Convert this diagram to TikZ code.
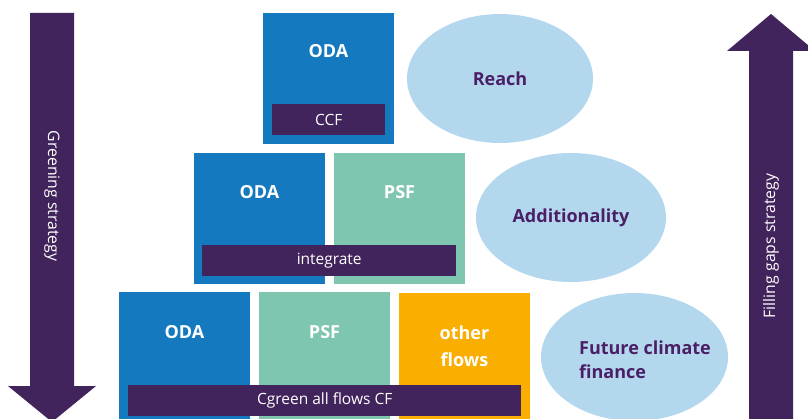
\documentclass[tikz,border=0pt]{standalone}
\usepackage{fontspec}
\setmainfont{Open Sans}
\usetikzlibrary{shapes.geometric}
\definecolor{odablue}{HTML}{1479BF}
\definecolor{psfteal}{HTML}{7FC6B1}
\definecolor{flowor}{HTML}{F9AE00}
\definecolor{dpurple}{HTML}{41245C}
\definecolor{lblue}{HTML}{B3D8EE}
\definecolor{tpurple}{HTML}{4A1F66}
\begin{document}
\begin{tikzpicture}[x=1pt,y=-1pt,
  box/.style={anchor=north west, inner sep=0pt, minimum width=131pt, minimum height=131pt},
  bar/.style={fill=dpurple, anchor=north west, inner sep=0pt, minimum height=31pt, text=white, font=\fontsize{15.5}{18}\selectfont},
  lab/.style={text=white, font=\bfseries\fontsize{18}{27}\selectfont, align=center, inner sep=0pt},
  oval/.style={ellipse, fill=lblue, inner sep=0pt, text=tpurple, font=\bfseries\fontsize{18}{24}\selectfont},
  arrowtext/.style={text=white, font=\fontsize{15.8}{18}\selectfont, inner sep=0pt},
  bigarrow/.style={fill=dpurple}]
\useasboundingbox (0,0) rectangle (808,419);
\clip (0,0) rectangle (808,419);
% strategy arrows
\fill[bigarrow] (30,13) -- (74,13) -- (74,386) -- (96,386) -- (52,422) -- (8,386) -- (30,386) -- cycle;
\node[arrowtext, rotate=-90] (green) at (52,196) {Greening strategy};
\fill[bigarrow] (749,424) -- (749,51) -- (727,51) -- (771,14) -- (815,51) -- (793,51) -- (793,424) -- cycle;
\node[arrowtext, rotate=90] (fill) at (771,246) {Filling gaps strategy};
% top row
\node[box, fill=odablue] (oda1) at (263,13) {};
\node[lab] (oda1l) at (328.5,51) {ODA};
\node[bar, minimum width=113pt] (ccf) at (272,104) {CCF};
% middle row
\node[box, fill=odablue] (oda2) at (194,153) {};
\node[lab] (oda2l) at (259.5,192) {ODA};
\node[box, fill=psfteal] (psf2) at (334,153) {};
\node[lab] (psf2l) at (399.5,192) {PSF};
\node[bar, minimum width=254pt] (integ) at (202,245) {integrate};
% bottom row
\node[box, fill=odablue] (oda3) at (119,292) {};
\node[lab] (oda3l) at (184.5,332) {ODA};
\node[box, fill=psfteal] (psf3) at (259,292) {};
\node[lab] (psf3l) at (324.5,332) {PSF};
\node[box, fill=flowor] (oth3) at (399,293) {};
\node[lab] (oth3l) at (464.5,346) {other\\flows};
\node[bar, minimum width=393pt] (cgreen) at (128,385) {Cgreen all flows CF};
% ellipses
\node[oval, minimum width=186pt, minimum height=129pt] (reach) at (500,78.5) {Reach};
\node[oval, minimum width=190pt, minimum height=129pt] (addit) at (571,217.5) {Additionality};
\node[oval, minimum width=187pt, minimum height=128pt] (future) at (634.5,357) {};
\node[text=tpurple, font=\bfseries\fontsize{18}{24}\selectfont, align=left, inner sep=0pt] (futurel) at (645,360) {Future climate\\finance};
\end{tikzpicture}
\end{document}
